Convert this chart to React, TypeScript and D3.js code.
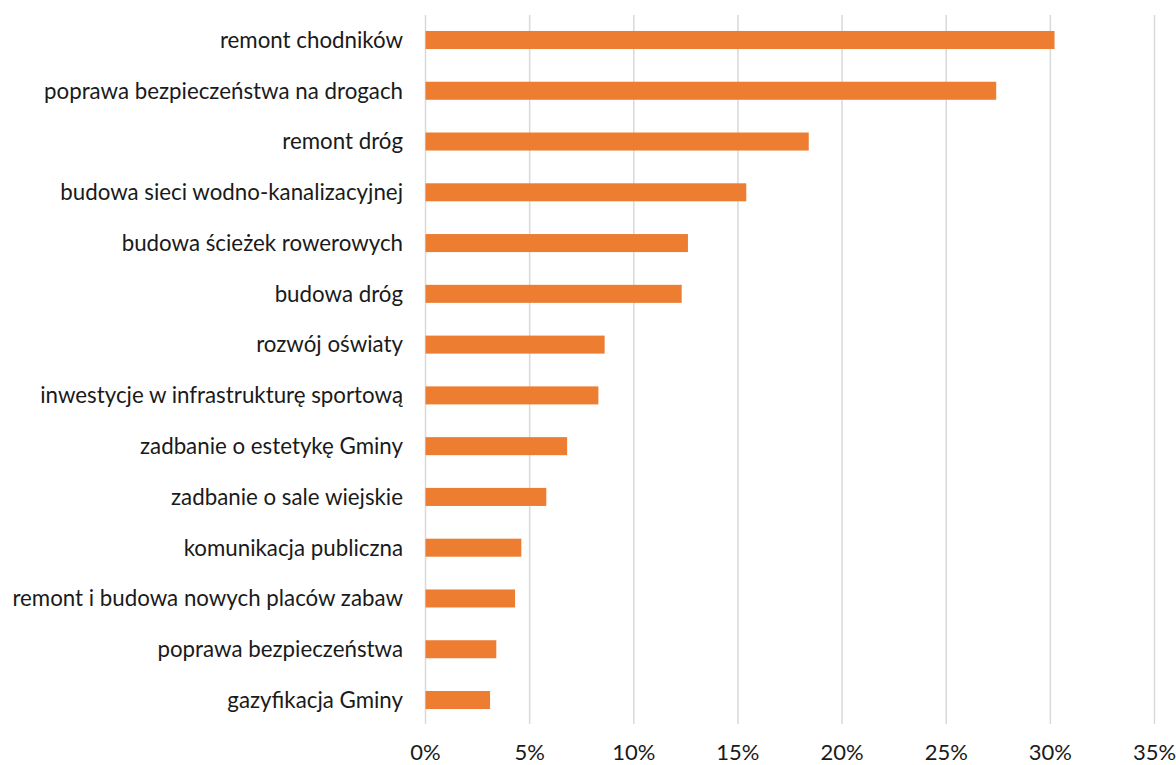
import React, { useEffect, useRef } from 'react';
import * as d3 from 'd3';

const categories = [
  'remont chodników',
  'poprawa bezpieczeństwa na drogach',
  'remont dróg',
  'budowa sieci wodno-kanalizacyjnej',
  'budowa ścieżek rowerowych',
  'budowa dróg',
  'rozwój oświaty',
  'inwestycje w infrastrukturę sportową',
  'zadbanie o estetykę Gminy',
  'zadbanie o sale wiejskie',
  'komunikacja publiczna',
  'remont i budowa nowych placów zabaw',
  'poprawa bezpieczeństwa',
  'gazyfikacja Gminy',
];

const values = [30.2, 27.4, 18.4, 15.4, 12.6, 12.3, 8.6, 8.3, 6.8, 5.8, 4.6, 4.3, 3.4, 3.1];

const ticks = [0, 5, 10, 15, 20, 25, 30, 35];

const App = () => {
  const svgRef = useRef(null);

  useEffect(() => {
    const width = 1176;
    const height = 765;
    const left = 425.5;
    const right = 1154.5;
    const top = 14.6;
    const bottom = 725.4;

    const svg = d3.select(svgRef.current);
    svg.selectAll('*').remove();

    const x = d3.scaleLinear().domain([0, 35]).range([left, right]);
    const y = d3
      .scaleBand()
      .domain(categories)
      .range([top, bottom])
      .paddingInner(0.645)
      .paddingOuter(0.3225);

    const font = 'Lato, "Open Sans", sans-serif';

    // gridlines
    svg
      .append('g')
      .selectAll('line')
      .data(ticks)
      .enter()
      .append('line')
      .attr('x1', (d) => x(d))
      .attr('x2', (d) => x(d))
      .attr('y1', 15)
      .attr('y2', 724)
      .attr('stroke', '#d9d9d9')
      .attr('stroke-width', 1.5);

    // bars
    svg
      .append('g')
      .selectAll('rect')
      .data(values)
      .enter()
      .append('rect')
      .attr('x', x(0))
      .attr('y', (d, i) => y(categories[i]))
      .attr('width', (d) => x(d) - x(0))
      .attr('height', y.bandwidth())
      .attr('fill', '#ed7d31');

    // category labels
    svg
      .append('g')
      .selectAll('text')
      .data(categories)
      .enter()
      .append('text')
      .attr('x', 403)
      .attr('y', (d) => y(d) + y.bandwidth() / 2)
      .attr('dy', '0.35em')
      .attr('text-anchor', 'end')
      .attr('font-family', font)
      .attr('font-size', 22.3)
      .attr('fill', '#1a1a1a')
      .text((d) => d);

    // tick labels
    svg
      .append('g')
      .selectAll('text')
      .data(ticks)
      .enter()
      .append('text')
      .attr('x', (d) => x(d))
      .attr('y', 752)
      .attr('dy', '0.35em')
      .attr('text-anchor', 'middle')
      .attr('font-family', font)
      .attr('font-size', 22)
      .attr('fill', '#1a1a1a')
      .text((d) => `${d}%`);

    svg.attr('width', width).attr('height', height);
  }, []);

  return (
    <svg
      ref={svgRef}
      style={{ position: 'absolute', left: 0, top: 0, background: '#fff' }}
    ></svg>
  );
};

export default App;
